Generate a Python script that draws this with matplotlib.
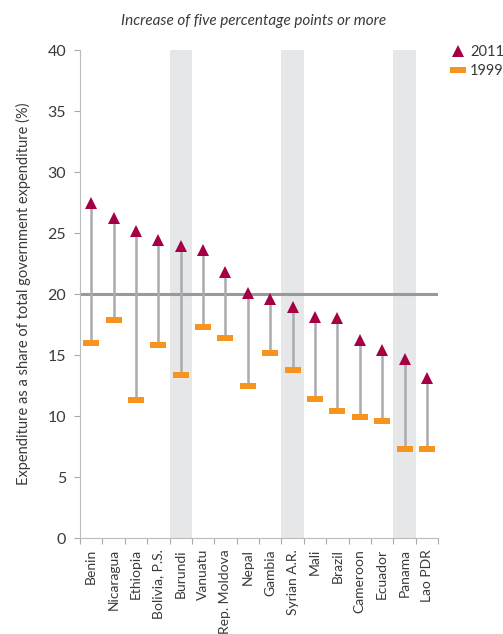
import matplotlib.pyplot as plt
from matplotlib.lines import Line2D
import numpy as np

# data
countries = ["Benin", "Nicaragua", "Ethiopia", "Bolivia, P.S.", "Burundi", "Vanuatu",
             "Rep. Moldova", "Nepal", "Gambia", "Syrian A.R.", "Mali", "Brazil",
             "Cameroon", "Ecuador", "Panama", "Lao PDR"]
share_2011 = [27.5, 26.2, 25.2, 24.4, 23.9, 23.6, 21.8, 20.1, 19.6, 18.9, 18.1, 18.0,
              16.2, 15.4, 14.7, 13.1]
share_1999 = [16.0, 17.9, 11.3, 15.8, 13.4, 17.3, 16.4, 12.5, 15.2, 13.8, 11.4, 10.4,
              9.9, 9.6, 7.3, 7.3]
shaded = ["Burundi", "Syrian A.R.", "Panama"]
benchmark = 20

plt.rcParams['font.family'] = ['Lato', 'DejaVu Sans']
txt = '#3a3a3a'
red = '#A50044'
orange = '#F7941D'
stem = '#ABABAD'

fig = plt.figure(figsize=(5.03, 6.34), dpi=100)
ax = fig.add_axes([0.159, 0.1514, 0.712, 0.7697])

x = np.arange(len(countries))
for c in shaded:
    i = countries.index(c)
    ax.axvspan(i - 0.5, i + 0.5, color='#E6E7E8', lw=0, zorder=0)

ax.axhline(benchmark, color='#999999', lw=2.2, zorder=1)
ax.vlines(x, share_1999, share_2011, color=stem, lw=1.8, zorder=2)

dash = [(-1, -0.4), (1, -0.4), (1, 0.4), (-1, 0.4), (-1, -0.4)]
ax.plot(x, share_1999, ls='none', marker=dash, ms=11, color=orange, mew=0, zorder=3)
ax.plot(x, share_2011, ls='none', marker='^', ms=9, color=red, mew=0, zorder=4)

ax.set_xlim(-0.5, len(countries) - 0.5)
ax.set_ylim(0, 40)
ax.set_yticks(np.arange(0, 41, 5))
ax.tick_params(axis='y', labelsize=11.5, colors='#aaaaaa', labelcolor=txt,
               length=4, width=0.8, pad=6)
ax.set_xticks(x)
ax.set_xticklabels(countries, rotation=90, fontsize=10, color=txt)
ax.tick_params(axis='x', which='major', length=0, pad=8)
ax.set_xticks(np.arange(-0.5, len(countries)), minor=True)
ax.tick_params(axis='x', which='minor', length=4, width=0.8, colors='#aaaaaa')

for s in ['top', 'right']:
    ax.spines[s].set_visible(False)
for s in ['left', 'bottom']:
    ax.spines[s].set_color('#bbbbbb')
    ax.spines[s].set_linewidth(0.8)

ax.set_ylabel('Expenditure as a share of total government expenditure (%)',
              fontsize=10.5, color=txt, labelpad=12)
fig.text(0.505, 0.967, 'Increase of five percentage points or more',
         ha='center', va='center', fontsize=11, style='italic', color=txt)

handles = [Line2D([], [], ls='none', marker='^', ms=9, color=red, mew=0),
           Line2D([], [], ls='none', marker=dash, ms=11, color=orange, mew=0)]
fig.legend(handles, ['2011', '1999'], loc='upper left', bbox_to_anchor=(0.897, 0.929),
           frameon=False, fontsize=10.5, handlelength=1.0, handletextpad=0.3,
           labelspacing=0.35, borderaxespad=0, borderpad=0, labelcolor=txt)

fig.savefig('out.png', dpi=100)
